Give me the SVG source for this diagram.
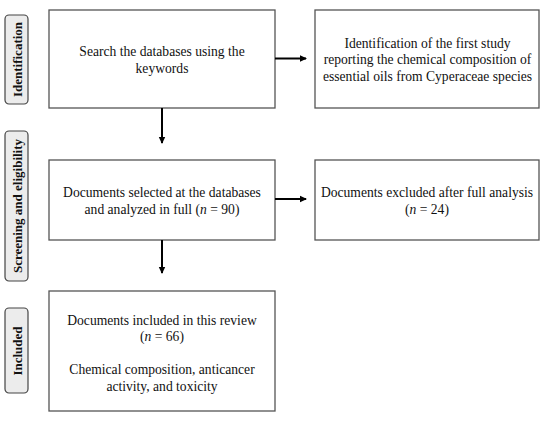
<svg xmlns="http://www.w3.org/2000/svg" width="550" height="422" viewBox="0 0 550 422">
<style>
.box{fill:#fff;stroke:#555;stroke-width:1.3}
.lab{fill:#ececec;stroke:#444;stroke-width:1.2}
.t{font-family:'Liberation Serif','Tinos','Times New Roman','DejaVu Serif',serif;font-size:13.6px;fill:#111;text-anchor:middle}
.lt{font-family:'Liberation Serif','Tinos','Times New Roman','DejaVu Serif',serif;font-size:13px;font-weight:bold;fill:#111;text-anchor:middle}
.c{stroke:#000;stroke-width:2;fill:none}
</style>
<defs>
<marker id="ah" markerWidth="8" markerHeight="8" refX="6" refY="4" orient="auto" markerUnits="userSpaceOnUse">
<path d="M0,0.8 L7,4 L0,7.2 Z" fill="#000"/>
</marker>
</defs>
<rect width="550" height="422" fill="#fff"/>
<g id="label-identification">
<rect class="lab" x="5" y="15" width="23" height="89" rx="4"/>
<text class="lt" transform="translate(21.5,59.5) rotate(-90)">Identification</text>
</g>
<g id="label-screening">
<rect class="lab" x="5" y="131" width="23" height="150" rx="4"/>
<text class="lt" transform="translate(21.5,206) rotate(-90)">Screening and eligibility</text>
</g>
<g id="label-included">
<rect class="lab" x="5" y="308" width="23" height="85" rx="4"/>
<text class="lt" transform="translate(21.5,351) rotate(-90)">Included</text>
</g>
<g id="search">
<rect class="box" x="49" y="10" width="226" height="98"/>
<text class="t" x="162" y="56">Search the databases using the</text>
<text class="t" x="162" y="72.5">keywords</text>
</g>
<g id="identification">
<rect class="box" x="315" y="10" width="224" height="98"/>
<text class="t" x="427.5" y="47.5">Identification of the first study</text>
<text class="t" x="427.5" y="64">reporting the chemical composition of</text>
<text class="t" x="427.5" y="80.5">essential oils from Cyperaceae species</text>
</g>
<g id="selected">
<rect class="box" x="49" y="160" width="226" height="80"/>
<text class="t" x="162" y="197">Documents selected at the databases</text>
<text class="t" x="162" y="213.5">and analyzed in full (<tspan font-style="italic">n</tspan> = 90)</text>
</g>
<g id="excluded">
<rect class="box" x="315" y="160" width="224" height="80"/>
<text class="t" x="427" y="197">Documents excluded after full analysis</text>
<text class="t" x="427" y="213.5">(<tspan font-style="italic">n</tspan> = 24)</text>
</g>
<g id="included">
<rect class="box" x="49" y="291" width="226" height="120"/>
<text class="t" x="162" y="325">Documents included in this review</text>
<text class="t" x="162" y="341">(<tspan font-style="italic">n</tspan> = 66)</text>
<text class="t" x="162" y="374">Chemical composition, anticancer</text>
<text class="t" x="162" y="390.5">activity, and toxicity</text>
</g>
<g id="connectors">
<line class="c" x1="275" y1="58.5" x2="306" y2="58.5" marker-end="url(#ah)"/>
<line class="c" x1="162" y1="108" x2="162" y2="143" marker-end="url(#ah)"/>
<line class="c" x1="275" y1="199" x2="306" y2="199" marker-end="url(#ah)"/>
<line class="c" x1="162" y1="240" x2="162" y2="273" marker-end="url(#ah)"/>
</g>
</svg>
